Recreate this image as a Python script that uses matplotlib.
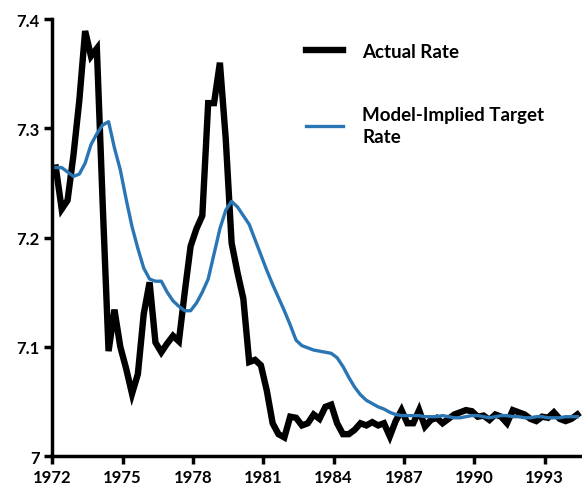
import matplotlib.pyplot as plt
import numpy as np

# quarterly observations starting 1972
start_year = 1972.15
actual_rate = [
    7.264, 7.226, 7.234, 7.275, 7.325, 7.389, 7.366, 7.373, 7.230, 7.096,
    7.134, 7.100, 7.080, 7.057, 7.075, 7.130, 7.159, 7.104, 7.095, 7.103,
    7.110, 7.105, 7.150, 7.192, 7.208, 7.220, 7.323, 7.323, 7.360, 7.290,
    7.195, 7.168, 7.144, 7.086, 7.088, 7.083, 7.060, 7.030, 7.020, 7.017,
    7.036, 7.035, 7.028, 7.030, 7.038, 7.034, 7.045, 7.047, 7.030, 7.020,
    7.020, 7.024, 7.030, 7.028, 7.031, 7.028, 7.030, 7.018, 7.032, 7.042,
    7.030, 7.030, 7.042, 7.027, 7.033, 7.035, 7.030, 7.034, 7.038, 7.040,
    7.042, 7.041, 7.036, 7.037, 7.033, 7.038, 7.036, 7.030, 7.042, 7.040,
    7.038, 7.034, 7.032, 7.036, 7.035, 7.040, 7.034, 7.032, 7.034, 7.038,
]
target_rate = [
    7.264, 7.264, 7.260, 7.256, 7.258, 7.268, 7.285, 7.295, 7.303, 7.306,
    7.282, 7.262, 7.235, 7.210, 7.190, 7.172, 7.162, 7.160, 7.160, 7.150,
    7.142, 7.137, 7.133, 7.133, 7.140, 7.150, 7.162, 7.185, 7.208, 7.225,
    7.233, 7.228, 7.220, 7.212, 7.198, 7.184, 7.170, 7.157, 7.145, 7.133,
    7.120, 7.106, 7.101, 7.099, 7.097, 7.096, 7.095, 7.094, 7.090, 7.082,
    7.072, 7.063, 7.056, 7.051, 7.048, 7.045, 7.043, 7.040, 7.038, 7.037,
    7.037, 7.037, 7.037, 7.036, 7.036, 7.036, 7.037, 7.036, 7.035, 7.035,
    7.036, 7.037, 7.037, 7.036, 7.035, 7.036, 7.037, 7.037, 7.036, 7.036,
    7.035, 7.035, 7.036, 7.036, 7.035, 7.035, 7.035, 7.036, 7.036, 7.036,
]
years = start_year + 0.25 * np.arange(len(actual_rate))

xticks = [1972, 1975, 1978, 1981, 1984, 1987, 1990, 1993]
yticks = [7, 7.1, 7.2, 7.3, 7.4]
ytick_labels = ['7', '7.1', '7.2', '7.3', '7.4']

plt.rcParams['font.family'] = ['Lato', 'DejaVu Sans']

fig = plt.figure(figsize=(5.82, 4.89), dpi=100)
ax = fig.add_axes([0.0899, 0.0654, 0.9101, 0.8937])

ax.plot(years, actual_rate, color='black', lw=4.6, solid_joinstyle='miter',
        label='Actual Rate')
ax.plot(years, target_rate, color='#2a75b3', lw=2.4,
        label='Model-Implied Target\nRate')

ax.set_xlim(1972, 1994.6)
ax.set_ylim(7, 7.4)
ax.set_xticks(xticks)
ax.set_xticklabels([str(t) for t in xticks])
ax.set_yticks(yticks)
ax.set_yticklabels(ytick_labels)
ax.spines['top'].set_visible(False)
ax.spines['right'].set_visible(False)
ax.spines['left'].set_linewidth(2.5)
ax.spines['bottom'].set_linewidth(2.5)
ax.tick_params(direction='out', length=6, width=2.5, labelsize=12, pad=3)
for t in ax.get_xticklabels() + ax.get_yticklabels():
    t.set_fontweight('bold')

leg = ax.legend(loc='upper left', bbox_to_anchor=(0.447, 0.984), frameon=False,
                fontsize=13.5, handlelength=2.0, handletextpad=1.0,
                labelspacing=2.45)
for t in leg.get_texts():
    t.set_fontweight('bold')
    t.set_linespacing(1.35)

fig.savefig('out.png', dpi=100)
